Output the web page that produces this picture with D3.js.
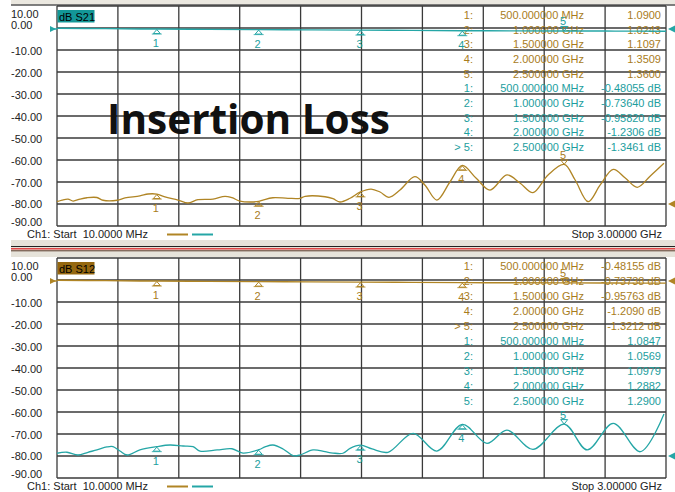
<!DOCTYPE html>
<html><head><meta charset="utf-8">
<script src="https://cdn.jsdelivr.net/npm/d3@7"></script>
<style>body{margin:0;background:#fff}svg{display:block}text{font-family:"Liberation Sans",Arial,sans-serif}text.big{font-family:"Open Sans",Lato,sans-serif}</style>
</head><body><svg id="c" width="675" height="492"></svg>
<script>
// ---------- data ----------
const yTicks = [10, 0, -10, -20, -30, -40, -50, -60, -70, -80, -90];
const yTickLabels = ["10.00", "0.00", "-10.00", "-20.00", "-30.00", "-40.00", "-50.00", "-60.00", "-70.00", "-80.00", "-90.00"];
const startLabel = "Ch1: Start\u00a0 10.0000 MHz";
const stopLabel = "Stop 3.00000 GHz";
const startGHz = 0.01, stopGHz = 3.0;

const markerFreqs = [0.5, 1.0, 1.5, 2.0, 2.5];
const markerNums = ["1", "2", "3", "4", "5"];
const markerFreqLabels = ["500.000000 MHz", "1.000000 GHz", "1.500000 GHz", "2.000000 GHz", "2.500000 GHz"];
const activeIds = ["1:", "2:", "3:", "4:", "> 5:"];
const plainIds = ["1:", "2:", "3:", "4:", "5:"];

// insertion loss traces (dB)
const lossFreq = [0.01, 0.25, 0.5, 0.75, 1.0, 1.25, 1.5, 1.75, 2.0, 2.25, 2.5, 2.75, 3.0];
const s21dB = [-0.10, -0.30, -0.48, -0.61, -0.736, -0.85, -0.958, -1.10, -1.231, -1.30, -1.346, -1.40, -1.45];
const s12dB = [-0.10, -0.30, -0.482, -0.61, -0.737, -0.85, -0.958, -1.08, -1.209, -1.27, -1.321, -1.38, -1.43];
const s21MarkerDb = [-0.48055, -0.73640, -0.95820, -1.2306, -1.3461];
const s12MarkerDb = [-0.48155, -0.73738, -0.95763, -1.2090, -1.3212];
const s21DbText = ["-0.48055 dB", "-0.73640 dB", "-0.95820 dB", "-1.2306 dB", "-1.3461 dB"];
const s12DbText = ["-0.48155 dB", "-0.73738 dB", "-0.95763 dB", "-1.2090 dB", "-1.3212 dB"];

// SWR traces
const swrTopFreq = [0.01, 0.035, 0.064, 0.089, 0.123, 0.157, 0.206, 0.236, 0.305, 0.344, 0.417, 0.457, 0.5, 0.54, 0.604, 0.653, 0.702, 0.776, 0.835, 0.869, 0.908, 0.958, 1.0, 1.021, 1.07, 1.144, 1.203, 1.228, 1.326, 1.365, 1.399, 1.449, 1.5, 1.552, 1.596, 1.64, 1.694, 1.767, 1.816, 1.875, 1.939, 2.0, 2.067, 2.136, 2.219, 2.283, 2.347, 2.421, 2.5, 2.554, 2.618, 2.677, 2.741, 2.8, 2.859, 2.923, 2.99];
const swrTopVal = [1.021, 1.036, 1.045, 1.027, 1.045, 1.057, 1.059, 1.034, 1.034, 1.055, 1.073, 1.091, 1.090, 1.064, 1.036, 1.009, 1.039, 1.045, 1.070, 1.057, 1.027, 1.018, 1.024, 1.036, 1.057, 1.052, 1.052, 1.070, 1.066, 1.048, 1.018, 1.052, 1.110, 1.136, 1.109, 1.061, 1.127, 1.248, 1.173, 1.036, 1.200, 1.351, 1.236, 1.127, 1.264, 1.191, 1.103, 1.264, 1.360, 1.218, 1.021, 1.173, 1.315, 1.236, 1.152, 1.255, 1.370];
const swrBotFreq = [0.01, 0.059, 0.113, 0.162, 0.206, 0.255, 0.285, 0.319, 0.354, 0.417, 0.5, 0.565, 0.629, 0.678, 0.712, 0.796, 0.869, 0.923, 1.0, 1.031, 1.07, 1.12, 1.169, 1.203, 1.267, 1.326, 1.365, 1.414, 1.449, 1.5, 1.557, 1.635, 1.758, 1.875, 2.0, 2.121, 2.219, 2.347, 2.5, 2.613, 2.741, 2.874, 2.99];
const swrBotVal = [1.025, 1.034, 1.009, 1.034, 1.055, 1.082, 1.085, 1.045, 1.009, 1.055, 1.085, 1.100, 1.091, 1.085, 1.045, 1.055, 1.066, 1.027, 1.057, 1.082, 1.100, 1.064, 1.003, 1.009, 1.055, 1.039, 1.027, 1.025, 1.070, 1.098, 1.064, 1.034, 1.206, 1.045, 1.288, 1.115, 1.236, 1.061, 1.290, 1.055, 1.297, 1.039, 1.382];
const s21SwrMarker = [1.0900, 1.0243, 1.1097, 1.3509, 1.3600];
const s12SwrMarker = [1.0847, 1.0569, 1.0979, 1.2882, 1.2900];
const s21SwrText = ["1.0900", "1.0243", "1.1097", "1.3509", "1.3600"];
const s12SwrText = ["1.0847", "1.0569", "1.0979", "1.2882", "1.2900"];

// ---------- style ----------
const BROWN = "#b08525", TEAL = "#25a6a6";
const BROWN_T = "#a87c1c", TEAL_T = "#1c9e9e";
const GRID = "#3a3a3a";

const svg = d3.select("#c");
const x = d3.scaleLinear().domain([startGHz, stopGHz]).range([57, 666]);

// top band & separator
svg.append("rect").attr("x", 11).attr("y", 0).attr("width", 664).attr("height", 4.5).attr("fill", "#ebe8e0");
svg.append("line").attr("x1", 11).attr("x2", 675).attr("y1", 5).attr("y2", 5).attr("stroke", "#555").attr("stroke-width", 1.5);
svg.append("rect").attr("x", 11).attr("y", 240).attr("width", 664).attr("height", 17).attr("fill", "#e6e3da");
svg.append("line").attr("x1", 11).attr("x2", 675).attr("y1", 246.5).attr("y2", 246.5).attr("stroke", "#222").attr("stroke-width", 1);
svg.append("line").attr("x1", 11).attr("x2", 675).attr("y1", 248.7).attr("y2", 248.7).attr("stroke", "#e04848").attr("stroke-width", 1.6);
svg.append("line").attr("x1", 11).attr("x2", 675).attr("y1", 250.8).attr("y2", 250.8).attr("stroke", "#5a3a2a").attr("stroke-width", 1);

const labelOffset = [12, 0.5, 5, 5, 5, 5, 5, 5, 4.5, 3.5, 0];

function panel(cfg) {
  const g = svg.append("g");
  const y = d3.scaleLinear().domain([-90, 10]).range([cfg.top + 220, cfg.top]);
  const ySwr = d3.scaleLinear().domain([1.0, 1.2]).range([y(-80), y(-70)]);

  // grid
  const xDiv = d3.range(11).map(i => startGHz + i * (stopGHz - startGHz) / 10);
  g.selectAll(".vg").data(xDiv).join("line")
    .attr("x1", d => x(d)).attr("x2", d => x(d)).attr("y1", y(10)).attr("y2", y(-90))
    .attr("stroke", GRID).attr("stroke-width", 1.3);
  g.selectAll(".hg").data(yTicks).join("line")
    .attr("x1", x(startGHz)).attr("x2", x(stopGHz)).attr("y1", d => y(d)).attr("y2", d => y(d))
    .attr("stroke", GRID).attr("stroke-width", 1.3);

  // y labels
  g.selectAll(".yl").data(yTicks).join("text")
    .attr("x", 11).attr("y", (d, i) => y(d) + labelOffset[i])
    .attr("font-size", 11).attr("fill", "#222").text((d, i) => yTickLabels[i]);

  // footer
  g.append("text").attr("x", 27).attr("y", cfg.top + 232).attr("font-size", 11).attr("fill", "#222").text(startLabel);
  g.append("text").attr("x", 662).attr("y", cfg.top + 232).attr("font-size", 11).attr("fill", "#222").attr("text-anchor", "end").text(stopLabel);
  g.append("line").attr("x1", 167).attr("x2", 188).attr("y1", cfg.top + 228.5).attr("y2", cfg.top + 228.5).attr("stroke", BROWN).attr("stroke-width", 2);
  g.append("line").attr("x1", 192).attr("x2", 213).attr("y1", cfg.top + 228.5).attr("y2", cfg.top + 228.5).attr("stroke", TEAL).attr("stroke-width", 2);

  // trace title box
  g.append("rect").attr("x", 57.5).attr("y", cfg.top + 4).attr("width", 37).attr("height", 12.5).attr("fill", cfg.boxColor);
  g.append("text").attr("x", 59).attr("y", cfg.top + 14.5).attr("font-size", 11).attr("fill", "#000").text(cfg.title);

  // table
  cfg.rows.forEach((r, i) => {
    const by = cfg.rowStart + cfg.rowStep * i;
    [[473, r.id], [584, r.f], [661, r.v]].forEach(([tx, t]) => {
      g.append("text").attr("x", tx).attr("y", by).attr("text-anchor", "end")
        .attr("font-size", 11).attr("fill", r.c).text(t);
    });
  });

  const line = d3.line().curve(d3.curveCatmullRom.alpha(0.5));
  // dB trace
  g.append("path").attr("d", line(cfg.dbFreq.map((f, i) => [x(f), y(cfg.dbVal[i])])))
    .attr("fill", "none").attr("stroke", cfg.dbColor).attr("stroke-width", 1.4);
  g.append("line").attr("x1", 50).attr("x2", 57).attr("y1", y(0) + 1).attr("y2", y(0) + 1).attr("stroke", cfg.dbColor).attr("stroke-width", 1.4);
  // SWR trace
  g.append("path").attr("d", line(cfg.swrFreq.map((f, i) => [x(f), ySwr(cfg.swrVal[i])])))
    .attr("fill", "none").attr("stroke", cfg.swrColor).attr("stroke-width", 1.3);

  // reference arrows
  const ly = y(0) + 1;
  g.append("path").attr("d", `M50,${ly - 3}L56,${ly}L50,${ly + 3}Z`).attr("fill", cfg.dbColor);
  g.append("path").attr("d", `M675,${ly - 3.5}L668,${ly}L675,${ly + 3.5}Z`).attr("fill", cfg.dbColor);
  const ry = y(-80);
  g.append("path").attr("d", `M675,${ry - 3.5}L668,${ry}L675,${ry + 3.5}Z`).attr("fill", cfg.swrColor);

  // markers
  function markers(ys, color, tcolor) {
    markerFreqs.forEach((f, i) => {
      const mx = x(f), my = ys[i];
      if (i === 4) {
        g.append("path").attr("d", `M${mx - 3.5},${my - 4.5}L${mx + 3.5},${my - 4.5}L${mx},${my}Z`)
          .attr("fill", "none").attr("stroke", color).attr("stroke-width", 1);
        g.append("text").attr("x", mx - 1).attr("y", my - 5.5).attr("text-anchor", "middle")
          .attr("font-size", 11).attr("fill", tcolor).text(markerNums[i]);
      } else {
        g.append("path").attr("d", `M${mx},${my + 0.5}L${mx + 3.5},${my + 4.5}L${mx - 3.5},${my + 4.5}Z`)
          .attr("fill", "none").attr("stroke", color).attr("stroke-width", 1);
        g.append("line").attr("x1", mx - 5).attr("x2", mx + 5).attr("y1", my + 5).attr("y2", my + 5)
          .attr("stroke", color).attr("stroke-width", 0.8);
        g.append("text").attr("x", mx - 1).attr("y", my + 18).attr("text-anchor", "middle")
          .attr("font-size", 11).attr("fill", tcolor).text(markerNums[i]);
      }
    });
  }
  markers(cfg.dbMarker.map(v => y(v)), cfg.dbColor, cfg.dbText);
  markers(cfg.swrMarker.map(v => ySwr(v)), cfg.swrColor, cfg.swrText);
}

panel({
  top: 6, title: "dB S21", boxColor: "#139797",
  dbFreq: lossFreq, dbVal: s21dB, dbMarker: s21MarkerDb, dbColor: TEAL, dbText: TEAL_T,
  swrFreq: swrTopFreq, swrVal: swrTopVal, swrMarker: s21SwrMarker, swrColor: BROWN, swrText: BROWN_T,
  rowStart: 19, rowStep: 14.67,
  rows: [
    ...markerFreqLabels.map((f, i) => ({ id: plainIds[i], f, v: s21SwrText[i], c: BROWN_T })),
    ...markerFreqLabels.map((f, i) => ({ id: activeIds[i], f, v: s21DbText[i], c: TEAL_T }))
  ]
});
panel({
  top: 258, title: "dB S12", boxColor: "#956810",
  dbFreq: lossFreq, dbVal: s12dB, dbMarker: s12MarkerDb, dbColor: BROWN, dbText: BROWN_T,
  swrFreq: swrBotFreq, swrVal: swrBotVal, swrMarker: s12SwrMarker, swrColor: TEAL, swrText: TEAL_T,
  rowStart: 269.5, rowStep: 15,
  rows: [
    ...markerFreqLabels.map((f, i) => ({ id: activeIds[i], f, v: s12DbText[i], c: BROWN_T })),
    ...markerFreqLabels.map((f, i) => ({ id: plainIds[i], f, v: s12SwrText[i], c: TEAL_T }))
  ]
});

// overlay title
svg.append("text").attr("class", "big").attr("x", 107).attr("y", 134)
  .attr("font-weight", "bold").attr("font-size", 42).attr("fill", "#111")
  .attr("textLength", 283).attr("lengthAdjust", "spacingAndGlyphs").text("Insertion Loss");
</script></body></html>
